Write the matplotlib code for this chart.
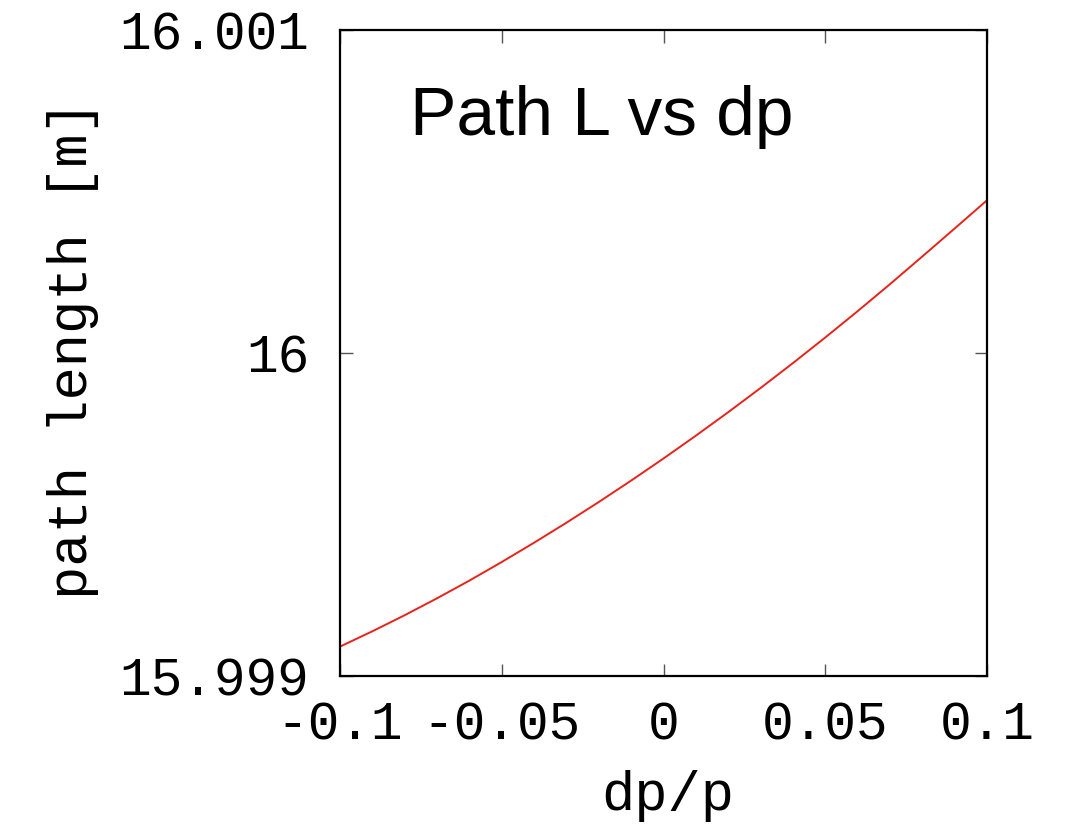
import matplotlib
matplotlib.use("Agg")
import matplotlib.pyplot as plt

# Data
dp = [-0.10, -0.09, -0.08, -0.07, -0.06, -0.05, -0.04, -0.03, -0.02, -0.01,
      0.00, 0.01, 0.02, 0.03, 0.04, 0.05, 0.06, 0.07, 0.08, 0.09, 0.10]
path_length = [15.9990910, 15.9991384, 15.9991882, 15.9992406, 15.9992954,
               15.9993529, 15.9994127, 15.9994746, 15.9995387, 15.9996050,
               15.9996734, 15.9997440, 15.9998167, 15.9998916, 15.9999687,
               16.0000480, 16.0001294, 16.0002130, 16.0002988, 16.0003854,
               16.0004728]
xticks = [-0.1, -0.05, 0.0, 0.05, 0.1]
xtick_labels = ["-0.1", "-0.05", "0", "0.05", "0.1"]
yticks = [15.999, 16.0, 16.001]
ytick_labels = ["15.999", "16", "16.001"]

W, H = 1077, 827
fig = plt.figure(figsize=(W / 100, H / 100), dpi=100)
ax = fig.add_axes([340 / W, 1 - 676 / H, (987 - 340) / W, (676 - 30) / H])

ax.plot(dp, path_length, color="#e8231a", lw=1.4)
ax.set_xlim(-0.1, 0.1)
ax.set_ylim(15.999, 16.001)

mono = "Liberation Mono"
ax.set_xticks(xticks)
ax.set_xticklabels(xtick_labels, family=mono, fontsize=38)
ax.set_yticks(yticks)
ax.set_yticklabels(ytick_labels, family=mono, fontsize=38)
ax.tick_params(direction="in", length=9, width=1.0, color="#555555",
               top=True, right=True)
ax.tick_params(axis="y", pad=22)
ax.tick_params(axis="x", pad=18)
for s in ax.spines.values():
    s.set_linewidth(1.6)

fig.text(73 / W, 1 - 350 / H, "path length [m]", rotation=90, ha="center",
         va="center", family=mono, fontsize=40)
fig.text(668 / W, 1 - 810 / H, "dp/p", ha="center", va="baseline",
         family=mono, fontsize=40)
fig.text(410 / W, 1 - 135 / H, "Path L vs dp", ha="left", va="baseline",
         family="Liberation Sans", fontsize=50)

fig.savefig("out.png", dpi=100)
